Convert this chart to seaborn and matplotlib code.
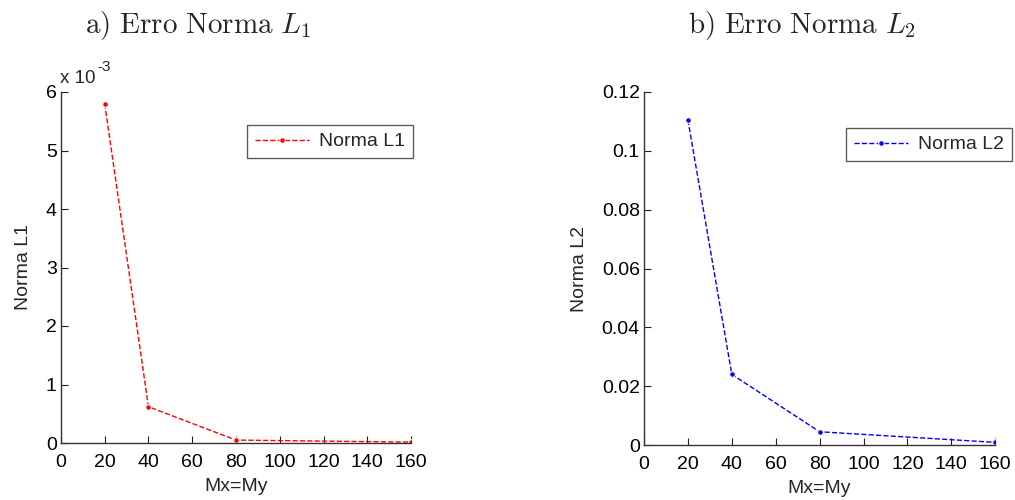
import numpy as np
import pandas as pd
import matplotlib
matplotlib.use("Agg")
import matplotlib.pyplot as plt
import seaborn as sns
from matplotlib.ticker import FuncFormatter

# data
mesh = [20, 40, 80, 160]
norm_l1 = [5.80e-3, 0.62e-3, 0.05e-3, 0.015e-3]
norm_l2 = [0.1105, 0.0240, 0.0045, 0.0009]
x_ticks = [0, 20, 40, 60, 80, 100, 120, 140, 160]
l1_ticks = [0, 1e-3, 2e-3, 3e-3, 4e-3, 5e-3, 6e-3]
l2_ticks = [0, 0.02, 0.04, 0.06, 0.08, 0.10, 0.12]

sns.set_style("ticks")
plt.rcParams["font.family"] = ["Liberation Sans", "DejaVu Sans"]
plt.rcParams["xtick.direction"] = "in"
plt.rcParams["ytick.direction"] = "in"

fig = plt.figure(figsize=(10.15, 5), dpi=100)
ax1 = fig.add_axes([0.060, 0.114, 0.345, 0.702])
ax2 = fig.add_axes([0.6345, 0.110, 0.346, 0.706])

df1 = pd.DataFrame({"M": mesh, "v": norm_l1})
df2 = pd.DataFrame({"M": mesh, "v": norm_l2})

fs = 14
for ax, df, col, lab, yt, yl in [
    (ax1, df1, "red", "Norma L1", l1_ticks, "Norma L1"),
    (ax2, df2, "blue", "Norma L2", l2_ticks, "Norma L2"),
]:
    sns.lineplot(data=df, x="M", y="v", ax=ax, color=col, linestyle="--",
                 marker=".", markersize=8, linewidth=1.0, label=lab)
    ax.set_xlim(0, 160)
    ax.set_ylim(yt[0], yt[-1])
    ax.set_xticks(x_ticks)
    ax.set_yticks(yt)
    ax.set_xlabel("Mx=My", fontsize=fs, labelpad=5)
    ax.set_ylabel(yl, fontsize=fs, labelpad=10)
    ax.tick_params(axis="both", labelsize=fs, length=5, width=0.8,
                   colors="#222222", labelcolor="black", pad=3)
    ax.tick_params(axis="x", pad=8)
    for s in ["top", "right"]:
        ax.spines[s].set_visible(False)
    for s in ["left", "bottom"]:
        ax.spines[s].set_color("#333333")
        ax.spines[s].set_linewidth(1.0)

ax1.yaxis.set_major_formatter(FuncFormatter(lambda v, p: "%g" % round(v * 1e3, 6)))
ax2.yaxis.set_major_formatter(FuncFormatter(lambda v, p: "%g" % round(v, 6)))

leg1 = ax1.legend(loc="upper left", bbox_to_anchor=(0.531, 0.906), fontsize=fs,
                  frameon=True, fancybox=False, handlelength=2.8, borderpad=0.4,
                  handletextpad=0.5, borderaxespad=0)
leg2 = ax2.legend(loc="upper left", bbox_to_anchor=(0.575, 0.898), fontsize=fs,
                  frameon=True, fancybox=False, handlelength=2.8, borderpad=0.4,
                  handletextpad=0.5, borderaxespad=0)
for leg in (leg1, leg2):
    leg.get_frame().set_edgecolor("#333333")
    leg.get_frame().set_linewidth(1.0)

ax1.text(-0.003, 1.015, "x 10", transform=ax1.transAxes, fontsize=fs - 0.5,
         ha="left", va="bottom")
ax1.text(0.103, 1.05, "-3", transform=ax1.transAxes, fontsize=fs - 3,
         ha="left", va="bottom")

fig.text(198 / 1015, 0.948, r"$\mathrm{a)\ Erro\ Norma}\ L_1$", math_fontfamily="cm",
         fontsize=21, ha="center", va="center")
fig.text(802 / 1015, 0.948, r"$\mathrm{b)\ Erro\ Norma}\ L_2$", math_fontfamily="cm",
         fontsize=21, ha="center", va="center")

fig.savefig("out.png", dpi=100)
